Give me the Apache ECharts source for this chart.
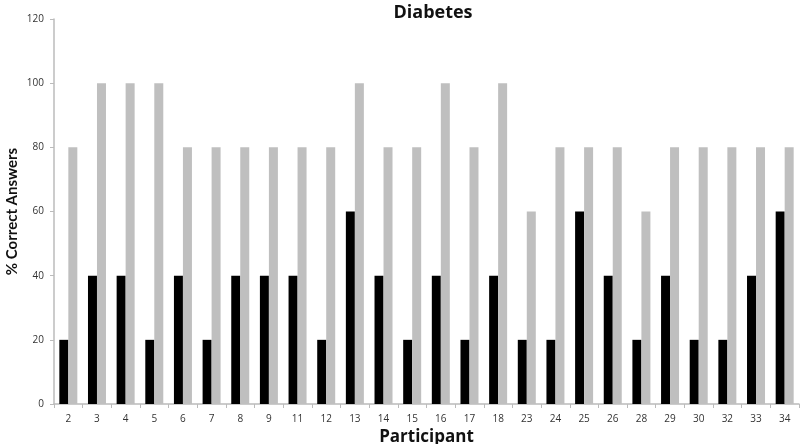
<!DOCTYPE html>
<html><head><meta charset="utf-8">
<script src="https://cdn.jsdelivr.net/npm/echarts@6/dist/echarts.min.js"></script>
<style>html,body{margin:0;padding:0;background:#fff}#c{width:800px;height:444px}</style>
</head><body><div id="c"></div>
<script>
var participants = ['2','3','4','5','6','7','8','9','11','12','13','14','15','16','17','18','23','24','25','26','28','29','30','32','33','34'];
var seriesBlack = [20,40,40,20,40,20,40,40,40,20,60,40,20,40,20,40,20,20,60,40,20,40,20,20,40,60];
var seriesGray = [80,100,100,100,80,80,80,80,80,80,100,80,80,100,80,100,60,80,80,80,60,80,80,80,80,80];
var chart = echarts.init(document.getElementById('c'));
chart.setOption({
  animation: false,
  title: {text: 'Diabetes', left: 428, textAlign: 'center', top: -1,
    textStyle: {fontFamily: 'Open Sans', fontWeight: 'bold', fontSize: 18, color: '#111'}},
  grid: {left: 54, right: 1, top: 19, bottom: 40, outerBoundsMode: 'none', containLabel: false},
  xAxis: {type: 'category', data: participants,
    name: 'Participant', nameLocation: 'middle', nameGap: 21,
    nameTextStyle: {fontFamily: 'Open Sans', fontWeight: 'bold', fontSize: 17, color: '#111'},
    axisLine: {lineStyle: {color: '#bbb', width: 1.5}},
    axisTick: {show: true, length: 4, lineStyle: {color: '#bbb'}},
    axisLabel: {fontFamily: 'Open Sans', fontSize: 10, color: '#333', margin: 10}},
  yAxis: {type: 'value', min: 0, max: 120, interval: 20,
    name: '% Correct Answers', nameLocation: 'middle', nameGap: 34, nameMoveOverlap: false,
    nameTextStyle: {fontFamily: 'Lato', fontWeight: 'bold', fontSize: 15, color: '#111'},
    axisLine: {show: true, lineStyle: {color: '#bbb', width: 1.5}},
    axisTick: {show: true, length: 4, lineStyle: {color: '#bbb'}},
    splitLine: {show: false},
    axisLabel: {fontFamily: 'Open Sans', fontSize: 10, color: '#333', margin: 10}},
  series: [
    {type: 'bar', data: seriesBlack, barWidth: 9, barGap: 0, itemStyle: {color: '#000'}},
    {type: 'bar', data: seriesGray, barWidth: 9, barGap: 0, itemStyle: {color: '#bfbfbf'}}
  ]
});
</script></body></html>
